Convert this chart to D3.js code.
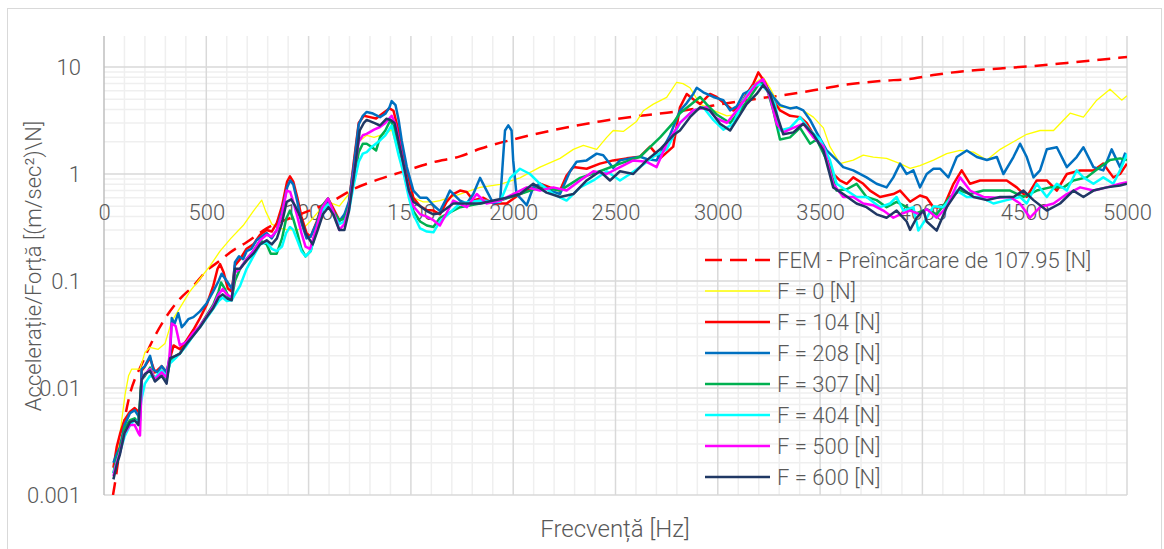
<!DOCTYPE html>
<html>
<head>
<meta charset="utf-8">
<script src="https://cdn.jsdelivr.net/npm/d3@7"></script>
<style>
  body { margin: 0; background: #fff; }
  text { font-family: Roboto, "Open Sans", sans-serif; font-weight: 300; fill: #595959; }
</style>
</head>
<body>
<svg id="chart" width="1164" height="549"></svg>
<script>
// axis ticks
const freqTicks = [0, 500, 1000, 1500, 2000, 2500, 3000, 3500, 4000, 4500, 5000];
const accTicks = [0.001, 0.01, 0.1, 1, 10];

// FEM model, preload 107.95 N  [Hz, (m/s^2)/N]
const fem = [[44,0.001],[54,0.0013],[78,0.0028],[119,0.0076],[192,0.018],[290,0.042],[371,0.068],[437,0.09],[502,0.125],[567,0.155],[616,0.185],[697,0.23],[795,0.31],[958,0.42],[1121,0.565],[1218,0.72],[1349,0.9],[1480,1.08],[1610,1.29],[1740,1.46],[1838,1.72],[2033,2.18],[2229,2.65],[2424,3.1],[2620,3.5],[2781,3.8],[3141,4.9],[3304,5.4],[3467,6.05],[3630,6.85],[3793,7.4],[3956,7.8],[4053,8.4],[4216,9.2],[4380,9.7],[4543,10.2],[4706,10.9],[4868,11.7],[5000,12.4]];

// measured FRFs
const f0 = [[46,0.0017],[62,0.0024],[80,0.004],[103,0.0087],[120,0.013],[135,0.015],[176,0.015],[200,0.0215],[225,0.024],[265,0.023],[298,0.026],[331,0.042],[371,0.056],[420,0.08],[469,0.105],[520,0.14],[567,0.19],[620,0.25],[680,0.33],[730,0.45],[771,0.57],[790,0.45],[820,0.34],[860,0.31],[900,0.3],[940,0.3],[975,0.31],[1007,0.36],[1050,0.45],[1095,0.55],[1150,0.5],[1197,0.65],[1221,1.0],[1245,2.0],[1284,2.3],[1320,2.2],[1349,2.3],[1380,2.4],[1406,2.6],[1430,1.8],[1455,1.16],[1480,0.85],[1512,0.6],[1560,0.55],[1610,0.55],[1642,0.565],[1740,0.65],[1838,0.75],[1936,0.8],[2033,0.92],[2131,1.16],[2229,1.4],[2294,1.7],[2343,1.85],[2408,1.7],[2457,2.2],[2489,2.55],[2538,2.5],[2603,3.1],[2636,3.9],[2685,4.5],[2750,5.2],[2799,7.2],[2830,7.0],[2864,6.4],[2913,4.5],[2978,3.93],[3044,3.5],[3093,3.6],[3141,4.5],[3190,7.3],[3222,8.0],[3255,6.4],[3304,4.2],[3353,4.2],[3402,4.1],[3467,3.4],[3516,2.7],[3548,1.8],[3597,1.25],[3662,1.35],[3711,1.5],[3760,1.44],[3825,1.4],[3891,1.25],[3940,1.13],[3988,1.2],[4054,1.35],[4119,1.55],[4184,1.66],[4250,1.6],[4315,1.35],[4380,1.7],[4445,2.0],[4510,2.35],[4575,2.55],[4641,2.55],[4690,3.2],[4722,3.7],[4787,3.4],[4852,4.9],[4917,6.2],[4974,4.9],[5000,5.4]];

const f104 = [[46,0.0018],[62,0.0028],[78,0.0037],[100,0.005],[127,0.006],[150,0.0065],[168,0.006],[176,0.0058],[184,0.0145],[200,0.016],[225,0.019],[249,0.014],[282,0.016],[306,0.014],[323,0.019],[340,0.025],[371,0.023],[404,0.028],[437,0.035],[469,0.045],[502,0.06],[534,0.09],[555,0.13],[567,0.144],[585,0.12],[605,0.085],[624,0.08],[640,0.14],[665,0.16],[697,0.2],[730,0.22],[763,0.27],[795,0.3],[820,0.29],[845,0.35],[870,0.5],[895,0.85],[909,0.95],[925,0.85],[945,0.6],[965,0.4],[990,0.28],[1010,0.26],[1040,0.36],[1065,0.5],[1095,0.59],[1120,0.48],[1150,0.37],[1175,0.4],[1197,0.53],[1221,1.3],[1245,3.0],[1270,3.5],[1300,3.4],[1330,3.3],[1360,3.66],[1395,4.1],[1415,3.9],[1440,2.5],[1465,1.4],[1490,0.9],[1512,0.6],[1545,0.5],[1578,0.46],[1610,0.455],[1642,0.42],[1675,0.55],[1707,0.65],[1740,0.7],[1773,0.68],[1805,0.565],[1854,0.6],[1903,0.53],[1968,0.53],[2033,0.65],[2082,0.72],[2131,0.81],[2180,0.75],[2229,0.7],[2261,0.97],[2294,1.16],[2359,1.12],[2424,1.25],[2489,1.34],[2555,1.4],[2620,1.45],[2669,1.8],[2718,1.4],[2782,1.8],[2815,4.2],[2848,5.6],[2880,5.0],[2913,4.5],[2962,5.6],[2994,5.25],[3044,4.4],[3076,3.93],[3109,4.4],[3141,5.6],[3174,7.0],[3198,8.9],[3230,7.2],[3271,4.9],[3304,3.93],[3353,3.5],[3402,3.4],[3434,3.0],[3467,2.35],[3516,1.66],[3564,1.0],[3597,0.87],[3630,0.81],[3662,0.93],[3711,0.81],[3744,0.7],[3793,0.61],[3858,0.65],[3891,0.7],[3940,0.55],[3988,0.63],[4021,0.6],[4054,0.49],[4103,0.49],[4152,0.81],[4192,1.08],[4233,0.81],[4282,0.87],[4347,0.87],[4412,0.87],[4461,0.75],[4510,0.61],[4559,0.87],[4608,0.87],[4657,0.7],[4706,1.0],[4771,1.08],[4836,1.08],[4884,1.25],[4933,0.93],[4966,1.0],[5000,1.25]];

const f208 = [[46,0.002],[62,0.0024],[78,0.0028],[100,0.0045],[127,0.0058],[150,0.0062],[168,0.0055],[176,0.005],[184,0.015],[200,0.016],[225,0.02],[240,0.015],[260,0.014],[282,0.016],[306,0.014],[323,0.02],[331,0.045],[345,0.04],[363,0.05],[380,0.037],[396,0.04],[412,0.044],[437,0.046],[469,0.052],[502,0.062],[534,0.08],[560,0.1],[575,0.117],[600,0.1],[624,0.085],[632,0.1],[640,0.15],[660,0.17],[680,0.16],[697,0.19],[720,0.2],[745,0.24],[770,0.26],[795,0.28],[820,0.25],[845,0.3],[870,0.45],[895,0.75],[910,0.87],[925,0.8],[945,0.55],[965,0.35],[990,0.25],[1010,0.26],[1040,0.35],[1065,0.5],[1095,0.56],[1120,0.45],[1150,0.36],[1175,0.42],[1197,0.55],[1221,1.2],[1245,2.9],[1265,3.5],[1284,3.8],[1310,3.7],[1349,3.4],[1375,3.66],[1395,4.2],[1406,4.8],[1425,4.4],[1440,3.2],[1455,2.06],[1480,1.16],[1512,0.7],[1545,0.6],[1578,0.6],[1610,0.51],[1642,0.45],[1675,0.6],[1691,0.7],[1740,0.565],[1773,0.53],[1805,0.65],[1838,0.92],[1870,0.7],[1903,0.53],[1936,0.55],[1952,1.55],[1960,2.55],[1976,2.85],[1992,2.55],[2000,1.34],[2016,0.65],[2041,0.58],[2066,0.51],[2098,0.75],[2131,0.81],[2180,0.7],[2229,0.65],[2278,1.06],[2310,1.3],[2359,1.34],[2408,1.55],[2440,1.5],[2489,1.14],[2522,1.34],[2571,1.4],[2620,1.45],[2652,1.38],[2701,1.34],[2766,2.3],[2815,3.9],[2848,4.6],[2880,5.6],[2897,6.4],[2929,5.8],[2978,5.25],[3027,4.9],[3060,3.93],[3093,4.3],[3125,5.6],[3158,6.05],[3190,6.9],[3214,7.5],[3239,6.5],[3271,5.25],[3304,4.4],[3353,4.1],[3386,4.2],[3418,3.93],[3451,3.2],[3483,2.45],[3532,1.66],[3581,1.35],[3613,1.16],[3662,1.08],[3727,0.93],[3776,0.81],[3825,0.75],[3858,0.93],[3891,1.25],[3923,1.0],[3956,1.08],[3988,0.75],[4021,1.0],[4054,1.12],[4086,1.12],[4127,0.93],[4168,1.44],[4217,1.66],[4266,1.44],[4315,1.35],[4364,1.44],[4396,1.0],[4445,1.44],[4477,1.92],[4510,1.44],[4543,0.93],[4575,1.08],[4608,1.7],[4657,1.78],[4706,1.16],[4754,1.44],[4787,1.78],[4836,1.16],[4884,1.08],[4925,1.7],[4966,1.16],[4990,1.55],[5000,1.45]];

const f307 = [[46,0.0016],[62,0.0022],[78,0.0027],[100,0.0042],[127,0.005],[150,0.0052],[168,0.0047],[184,0.012],[200,0.013],[225,0.0155],[249,0.012],[282,0.0145],[306,0.012],[323,0.018],[350,0.02],[371,0.021],[404,0.026],[437,0.032],[469,0.038],[502,0.048],[534,0.06],[560,0.08],[572,0.097],[590,0.085],[610,0.07],[624,0.068],[640,0.1],[665,0.13],[697,0.16],[730,0.19],[763,0.24],[795,0.22],[815,0.18],[844,0.18],[870,0.25],[890,0.38],[909,0.455],[925,0.38],[945,0.28],[965,0.2],[985,0.17],[1010,0.19],[1040,0.32],[1065,0.5],[1095,0.59],[1120,0.45],[1150,0.37],[1175,0.38],[1197,0.5],[1221,0.9],[1245,1.6],[1265,1.92],[1284,1.92],[1310,1.78],[1330,1.66],[1349,2.2],[1375,2.55],[1400,3.2],[1420,2.6],[1440,1.8],[1465,1.2],[1490,0.7],[1512,0.45],[1545,0.36],[1578,0.33],[1610,0.32],[1642,0.39],[1740,0.49],[1838,0.53],[1936,0.565],[2033,0.65],[2131,0.75],[2229,0.7],[2327,0.92],[2424,1.06],[2522,1.25],[2620,1.45],[2718,2.2],[2782,3.0],[2815,3.7],[2864,4.4],[2913,5.25],[2945,4.5],[2994,3.6],[3060,3.0],[3109,3.93],[3158,5.25],[3206,7.2],[3239,6.4],[3271,3.93],[3304,2.1],[3353,2.2],[3402,2.7],[3451,1.92],[3483,2.1],[3532,1.35],[3581,0.7],[3630,0.72],[3678,0.81],[3727,0.61],[3776,0.57],[3825,0.49],[3874,0.55],[3923,0.49],[3972,0.43],[4021,0.47],[4070,0.42],[4135,0.61],[4184,0.7],[4233,0.65],[4298,0.7],[4364,0.7],[4429,0.7],[4494,0.61],[4559,0.7],[4624,0.75],[4690,0.75],[4738,0.87],[4803,0.93],[4869,1.16],[4917,1.35],[4966,1.4],[5000,1.35]];

const f404 = [[46,0.0016],[62,0.002],[78,0.0025],[100,0.0035],[127,0.0045],[150,0.005],[168,0.0048],[184,0.008],[200,0.011],[225,0.013],[249,0.0125],[282,0.0145],[306,0.013],[323,0.017],[350,0.019],[371,0.021],[404,0.025],[437,0.031],[469,0.037],[502,0.045],[534,0.055],[560,0.065],[580,0.07],[600,0.065],[624,0.066],[640,0.075],[665,0.09],[697,0.13],[730,0.17],[763,0.22],[795,0.23],[820,0.2],[844,0.19],[870,0.21],[890,0.28],[909,0.32],[925,0.3],[945,0.24],[965,0.19],[985,0.17],[1010,0.19],[1040,0.3],[1065,0.45],[1095,0.52],[1120,0.42],[1150,0.34],[1175,0.36],[1197,0.45],[1221,0.8],[1245,1.3],[1265,1.55],[1284,1.6],[1310,1.8],[1349,2.06],[1375,2.3],[1406,2.84],[1420,2.2],[1440,1.5],[1465,1.0],[1490,0.6],[1512,0.42],[1545,0.31],[1578,0.29],[1610,0.285],[1642,0.36],[1740,0.53],[1838,0.565],[1936,0.55],[1985,0.92],[2033,1.12],[2082,1.0],[2131,0.81],[2196,0.65],[2261,0.565],[2327,0.75],[2392,0.87],[2457,1.06],[2522,0.87],[2571,1.0],[2620,1.16],[2685,1.45],[2750,1.7],[2815,3.0],[2880,3.93],[2929,4.2],[2978,3.2],[3027,2.6],[3076,2.95],[3125,4.9],[3174,6.6],[3206,6.9],[3239,6.1],[3280,4.5],[3304,2.55],[3353,2.7],[3402,3.4],[3451,2.55],[3500,2.1],[3548,1.35],[3581,0.81],[3630,0.7],[3678,0.61],[3727,0.61],[3793,0.49],[3842,0.53],[3874,0.61],[3907,0.455],[3956,0.49],[3980,0.296],[4021,0.39],[4054,0.5],[4103,0.49],[4168,0.7],[4217,0.61],[4282,0.61],[4347,0.53],[4412,0.57],[4477,0.61],[4510,0.53],[4559,0.81],[4608,0.61],[4657,0.81],[4706,0.7],[4754,1.08],[4787,0.93],[4836,0.81],[4884,0.93],[4933,0.81],[4966,1.08],[5000,1.55]];

const f500 = [[46,0.0015],[62,0.002],[78,0.0025],[100,0.0038],[127,0.0045],[150,0.0045],[168,0.0038],[176,0.0036],[184,0.012],[200,0.0135],[225,0.015],[249,0.012],[282,0.014],[306,0.0125],[320,0.02],[331,0.04],[350,0.038],[371,0.025],[404,0.027],[437,0.033],[469,0.038],[502,0.047],[534,0.058],[560,0.075],[580,0.084],[600,0.075],[624,0.07],[640,0.12],[665,0.13],[697,0.16],[730,0.19],[763,0.24],[795,0.27],[820,0.26],[845,0.3],[870,0.42],[893,0.7],[910,0.68],[925,0.55],[945,0.4],[965,0.28],[985,0.21],[1007,0.2],[1040,0.32],[1065,0.48],[1095,0.59],[1120,0.45],[1150,0.3],[1175,0.34],[1197,0.48],[1221,1.0],[1245,2.0],[1265,2.3],[1284,2.37],[1320,2.6],[1349,2.75],[1375,3.0],[1406,3.5],[1425,2.9],[1440,2.1],[1465,1.2],[1490,0.7],[1512,0.5],[1545,0.42],[1578,0.4],[1610,0.37],[1642,0.33],[1707,0.565],[1773,0.49],[1822,0.65],[1870,0.53],[1936,0.565],[2000,0.65],[2066,0.75],[2131,0.7],[2196,0.75],[2261,0.7],[2327,0.87],[2392,1.06],[2457,1.0],[2522,1.16],[2587,1.34],[2652,1.3],[2701,1.16],[2750,1.92],[2815,3.0],[2880,3.93],[2945,4.2],[2994,3.3],[3044,3.0],[3093,3.93],[3141,5.25],[3190,7.0],[3222,7.7],[3255,5.25],[3288,2.95],[3320,2.45],[3369,2.7],[3418,2.95],[3467,2.2],[3516,1.8],[3564,0.81],[3613,0.61],[3662,0.61],[3711,0.53],[3760,0.51],[3809,0.455],[3858,0.39],[3891,0.42],[3940,0.455],[3988,0.42],[4021,0.47],[4070,0.39],[4119,0.49],[4184,0.93],[4233,0.7],[4298,0.61],[4364,0.6],[4429,0.61],[4477,0.53],[4526,0.39],[4575,0.49],[4641,0.53],[4706,0.65],[4771,0.75],[4836,0.7],[4901,0.75],[4966,0.81],[5000,0.84]];

const f600 = [[46,0.0014],[62,0.0019],[78,0.0024],[100,0.0038],[127,0.0048],[150,0.005],[168,0.0045],[184,0.012],[200,0.0135],[225,0.0145],[249,0.0115],[282,0.013],[306,0.011],[323,0.019],[350,0.02],[371,0.021],[404,0.026],[437,0.031],[469,0.037],[502,0.046],[534,0.056],[560,0.07],[580,0.075],[605,0.068],[624,0.066],[640,0.13],[665,0.13],[697,0.155],[730,0.18],[763,0.22],[795,0.24],[820,0.22],[845,0.25],[870,0.35],[893,0.55],[915,0.58],[935,0.5],[960,0.4],[985,0.28],[1007,0.24],[1020,0.22],[1045,0.3],[1070,0.42],[1097,0.49],[1120,0.42],[1150,0.3],[1175,0.3],[1197,0.45],[1221,0.95],[1250,2.55],[1270,3.0],[1284,3.2],[1320,3.0],[1349,2.84],[1380,3.28],[1400,3.2],[1420,3.0],[1440,2.0],[1465,1.2],[1490,0.7],[1512,0.55],[1545,0.5],[1578,0.45],[1610,0.42],[1642,0.43],[1707,0.53],[1773,0.53],[1838,0.53],[1903,0.565],[1968,0.6],[2033,0.65],[2098,0.81],[2163,0.67],[2229,0.61],[2294,0.65],[2359,0.87],[2424,1.06],[2473,0.87],[2522,1.06],[2587,1.0],[2652,1.34],[2718,1.7],[2782,2.3],[2815,2.55],[2864,3.4],[2913,4.2],[2962,3.93],[3011,2.95],[3060,2.55],[3093,3.2],[3141,4.5],[3190,5.6],[3222,6.8],[3255,5.6],[3288,3.6],[3320,2.35],[3369,2.45],[3418,2.95],[3467,2.35],[3516,1.66],[3564,0.75],[3613,0.65],[3678,0.53],[3727,0.49],[3776,0.42],[3825,0.39],[3874,0.455],[3923,0.36],[3940,0.3],[3972,0.39],[4005,0.455],[4021,0.36],[4070,0.296],[4119,0.49],[4184,0.75],[4250,0.61],[4315,0.57],[4380,0.61],[4445,0.61],[4494,0.7],[4543,0.57],[4608,0.455],[4673,0.53],[4738,0.7],[4787,0.61],[4836,0.7],[4901,0.75],[4966,0.78],[5000,0.81]];

const seriesNames = ['FEM - Preîncărcare de 107.95 [N]', 'F = 0 [N]', 'F = 104 [N]', 'F = 208 [N]', 'F = 307 [N]', 'F = 404 [N]', 'F = 500 [N]', 'F = 600 [N]'];
const seriesColors = ['#ff0000', '#ffff00', '#ff0000', '#0070c0', '#00b050', '#00ffff', '#ff00ff', '#203864'];
const seriesData = [fem, f0, f104, f208, f307, f404, f500, f600];

const svg = d3.select('#chart');
const W = 1164, H = 549;
const pLeft = 104, pRight = 1127, pTop = 36, pBottom = 495;

svg.append('rect')
    .attr('x', 7.5).attr('y', 8.5)
    .attr('width', W - 10).attr('height', H)
    .attr('fill', 'none').attr('stroke', '#d9d9d9').attr('stroke-width', 1);

let x = d3.scaleLinear().domain([0, 5000]).range([pLeft, pRight]);
let y = d3.scaleLog().domain([0.001, 10]).range([pBottom, 67]);
let yTop = y.invert(pTop);

let grid = svg.append('g');
// minor gridlines
let minorX = d3.range(100, 5000, 100).filter(d => d % 500 != 0);
grid.selectAll('.vminor').data(minorX).enter().append('line')
    .attr('x1', d => x(d)).attr('x2', d => x(d))
    .attr('y1', pTop).attr('y2', pBottom)
    .attr('stroke', '#efefef').attr('stroke-width', 1.5);
let minorY = [];
accTicks.forEach(d => { for (let k = 2; k < 10; k++) if (d * k < yTop) minorY.push(d * k); });
grid.selectAll('.hminor').data(minorY).enter().append('line')
    .attr('x1', pLeft).attr('x2', pRight)
    .attr('y1', d => y(d)).attr('y2', d => y(d))
    .attr('stroke', '#efefef').attr('stroke-width', 1.5);
// major gridlines
grid.selectAll('.vmajor').data(freqTicks.slice(1)).enter().append('line')
    .attr('x1', d => x(d)).attr('x2', d => x(d))
    .attr('y1', pTop).attr('y2', pBottom)
    .attr('stroke', '#d9d9d9').attr('stroke-width', 1.5);
grid.selectAll('.hmajor').data(accTicks).enter().append('line')
    .attr('x1', pLeft).attr('x2', pRight)
    .attr('y1', d => y(d)).attr('y2', d => y(d))
    .attr('stroke', '#d9d9d9').attr('stroke-width', 1.5);
grid.append('line')
    .attr('x1', pLeft).attr('x2', pLeft).attr('y1', pTop).attr('y2', pBottom)
    .attr('stroke', '#bfbfbf').attr('stroke-width', 1.5);

// axes (labels sit under the curves)
let xAxis = svg.append('g')
    .attr('transform', 'translate(0,' + y(1) + ')')
    .call(d3.axisBottom(x).tickValues(freqTicks).tickSize(0).tickPadding(30).tickFormat(d3.format('d')));
xAxis.select('.domain').remove();
xAxis.selectAll('text').style('font-size', '22px').style('font-weight', 300).attr('fill', '#595959');

let yAxis = svg.append('g')
    .attr('transform', 'translate(' + pLeft + ',0)')
    .call(d3.axisLeft(y).tickValues(accTicks).tickSize(0).tickPadding(23).tickFormat(d => String(d)));
yAxis.select('.domain').remove();
yAxis.selectAll('text').style('font-size', '22px').style('font-weight', 300).attr('fill', '#595959');

svg.append('clipPath').attr('id', 'plotClip').append('rect')
    .attr('x', pLeft).attr('y', pTop).attr('width', pRight - pLeft).attr('height', pBottom - pTop);

let line = d3.line().x(d => x(d[0])).y(d => y(d[1]));
let plot = svg.append('g').attr('clip-path', 'url(#plotClip)');
seriesData.forEach((s, i) => {
    plot.append('path')
        .datum(s)
        .attr('fill', 'none')
        .attr('stroke', seriesColors[i])
        .attr('stroke-width', i == 1 ? 1.3 : 2.5)
        .attr('stroke-linejoin', 'round')
        .attr('stroke-dasharray', i == 0 ? '13,8' : null)
        .attr('d', i == 0 ? line.curve(d3.curveMonotoneX)(s) : line.curve(d3.curveLinear)(s));
});

// legend
let legend = svg.append('g');
seriesNames.forEach((name, i) => {
    let ly = 260 + i * 31;
    legend.append('line')
        .attr('x1', 705).attr('x2', 770).attr('y1', ly).attr('y2', ly)
        .attr('stroke', seriesColors[i])
        .attr('stroke-width', i == 1 ? 1.3 : 2.5)
        .attr('stroke-dasharray', i == 0 ? '17,8' : null);
    legend.append('text')
        .attr('x', 777).attr('y', ly).attr('dy', '0.35em')
        .style('font-size', '22px')
        .text(name);
});

// axis titles
svg.append('text')
    .attr('x', 615).attr('y', 529).attr('dy', '0.35em')
    .attr('text-anchor', 'middle')
    .style('font-size', '24px')
    .text('Frecvență [Hz]');
svg.append('text')
    .attr('transform', 'translate(33,266) rotate(-90)')
    .attr('dy', '0.35em')
    .attr('text-anchor', 'middle')
    .style('font-size', '22px')
    .text('Accelerație/Forță [(m/sec²)\\N]');
</script>
</body>
</html>
